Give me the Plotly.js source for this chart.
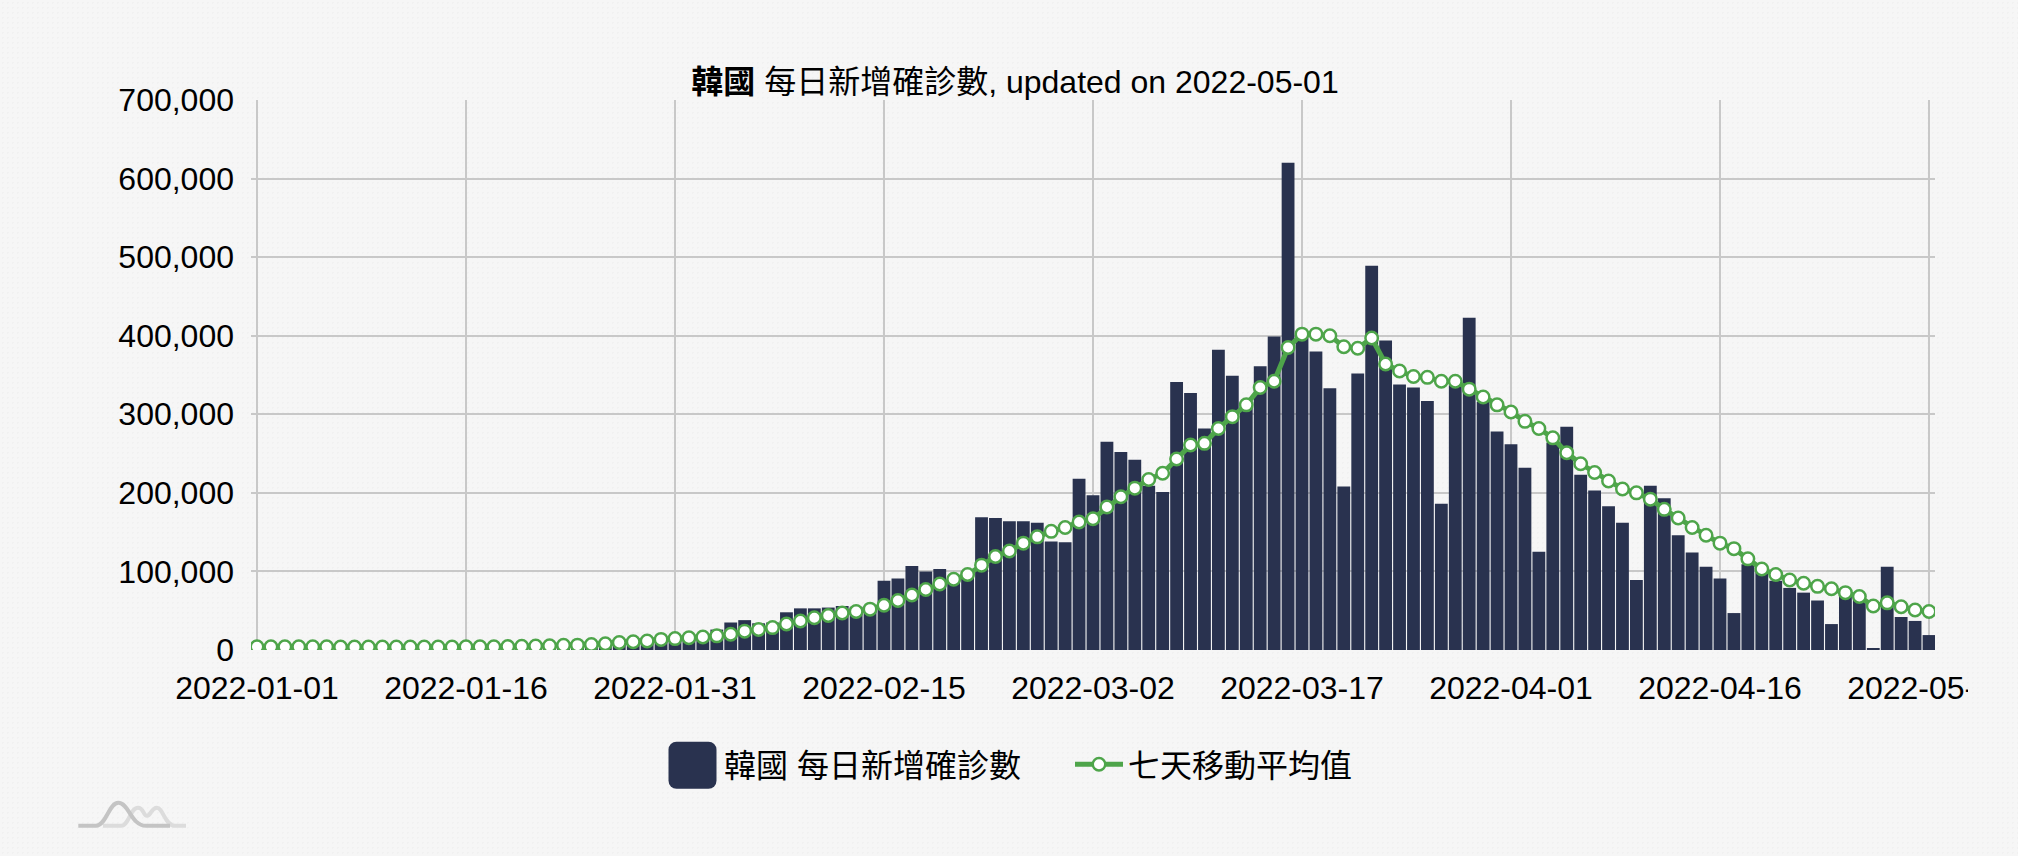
<!DOCTYPE html>
<html>
<head>
<meta charset="utf-8">
<script src="https://cdn.plot.ly/plotly-3.0.1.min.js"></script>
<style>
  html, body { margin: 0; padding: 0; width: 2018px; height: 856px; overflow: hidden; background-color: #f6f6f6; }
  body { background-image: radial-gradient(#f1f1f1 1px, transparent 1px); background-size: 5px 5px; }
  #chart { width: 1968px; height: 856px; }
</style>
</head>
<body>
<div id="chart"></div>
<script>
var dates = [
  '2022-01-01','2022-01-02','2022-01-03','2022-01-04','2022-01-05','2022-01-06','2022-01-07','2022-01-08','2022-01-09','2022-01-10',
  '2022-01-11','2022-01-12','2022-01-13','2022-01-14','2022-01-15','2022-01-16','2022-01-17','2022-01-18','2022-01-19','2022-01-20',
  '2022-01-21','2022-01-22','2022-01-23','2022-01-24','2022-01-25','2022-01-26','2022-01-27','2022-01-28','2022-01-29','2022-01-30',
  '2022-01-31','2022-02-01','2022-02-02','2022-02-03','2022-02-04','2022-02-05','2022-02-06','2022-02-07','2022-02-08','2022-02-09',
  '2022-02-10','2022-02-11','2022-02-12','2022-02-13','2022-02-14','2022-02-15','2022-02-16','2022-02-17','2022-02-18','2022-02-19',
  '2022-02-20','2022-02-21','2022-02-22','2022-02-23','2022-02-24','2022-02-25','2022-02-26','2022-02-27','2022-02-28','2022-03-01',
  '2022-03-02','2022-03-03','2022-03-04','2022-03-05','2022-03-06','2022-03-07','2022-03-08','2022-03-09','2022-03-10','2022-03-11',
  '2022-03-12','2022-03-13','2022-03-14','2022-03-15','2022-03-16','2022-03-17','2022-03-18','2022-03-19','2022-03-20','2022-03-21',
  '2022-03-22','2022-03-23','2022-03-24','2022-03-25','2022-03-26','2022-03-27','2022-03-28','2022-03-29','2022-03-30','2022-03-31',
  '2022-04-01','2022-04-02','2022-04-03','2022-04-04','2022-04-05','2022-04-06','2022-04-07','2022-04-08','2022-04-09','2022-04-10',
  '2022-04-11','2022-04-12','2022-04-13','2022-04-14','2022-04-15','2022-04-16','2022-04-17','2022-04-18','2022-04-19','2022-04-20',
  '2022-04-21','2022-04-22','2022-04-23','2022-04-24','2022-04-25','2022-04-26','2022-04-27','2022-04-28','2022-04-29','2022-04-30',
  '2022-05-01'
];

// daily new cases
var dailyCases = [
  4400,3800,3100,3700,4400,4100,3700,3500,3400,3000,
  3000,3900,4200,4200,4500,4300,3900,3900,5800,5800,
  6600,6800,7000,7600,8500,12000,13500,14500,16000,16000,
  16500,18000,19500,26000,35000,38000,34000,35000,48000,53000,
  53000,54000,56000,55000,56000,88000,91000,107000,100000,103000,
  90000,93000,169000,168000,164000,164000,162000,138000,137000,218000,
  197000,265000,252000,242000,209000,201000,341000,327000,282000,382000,
  349000,314000,361000,399000,620000,398000,380000,333000,208000,352000,
  489000,394000,338000,334000,317000,186000,337000,423000,316000,278000,
  262000,232000,125000,264000,284000,223000,203000,183000,162000,89000,
  209000,193000,146000,124000,106000,91000,47000,109000,99000,88000,
  79000,73000,63000,33000,69000,66000,1500,106000,42000,37000,
  19000
];

// seven day moving average
var movingAvg = [
  4200,4100,4000,4000,4000,4000,3900,3900,3800,3700,
  3700,3700,3700,3800,3900,4000,4000,4100,4400,4700,
  5000,5500,6000,6200,7000,8000,9500,10500,11500,13500,
  14500,15500,16500,18000,20000,24000,26000,28500,33000,37000,
  41000,44000,47000,49000,52000,57000,63000,70000,77000,84000,
  90000,96000,108000,119000,126000,136000,144000,151000,156000,163000,
  167000,182000,195000,206000,217000,225000,243000,261000,263000,282000,
  297000,312000,334000,342000,385000,402000,402000,400000,386000,384000,
  397000,364000,355000,348000,347000,342000,342000,332000,322000,312000,
  303000,291000,282000,270000,251000,237000,226000,215000,205000,200000,
  192000,179000,168000,156000,146000,136000,129000,116000,103000,96000,
  89000,85000,81000,78000,73000,68000,56000,60000,55000,51000,
  49000
];

var tickDates = ['2022-01-01','2022-01-16','2022-01-31','2022-02-15','2022-03-02','2022-03-17','2022-04-01','2022-04-16','2022-05-01'];
var yTicks = [0,100000,200000,300000,400000,500000,600000,700000];

var barColor = '#29324f';
var lineColor = '#4ea54a';
var gridColor = '#c8c8c8';
var fontFamily = '"Liberation Sans", "Noto Sans CJK TC", sans-serif';

var traces = [
  { type: 'bar', name: '韓國 每日新增確診數', x: dates, y: dailyCases, marker: { color: barColor }, hoverinfo: 'x+y' },
  {
    type: 'scatter', mode: 'lines+markers', name: '七天移動平均值', x: dates, y: movingAvg,
    line: { color: lineColor, width: 5 },
    marker: { color: '#ffffff', size: 12.5, line: { color: lineColor, width: 2.5 } }
  }
];

var layout = {
  width: 1968,
  height: 856,
  paper_bgcolor: 'rgba(0,0,0,0)',
  plot_bgcolor: 'rgba(0,0,0,0)',
  margin: { l: 251, r: 33, t: 100.3, b: 205.5, pad: 0, autoexpand: false },
  font: { family: fontFamily, size: 32, color: '#000000' },
  bargap: 0.08,
  title: {
    text: '<b>韓國</b> 每日新增確診數, updated on 2022-05-01',
    font: { family: fontFamily, size: 32, color: '#000000' },
    xref: 'container', yref: 'container',
    x: 1015 / 1968, xanchor: 'center',
    y: 1 - 82 / 856, yanchor: 'middle'
  },
  xaxis: {
    type: 'category',
    categoryorder: 'array',
    categoryarray: dates,
    range: [-0.43, 120.43],
    tickmode: 'array',
    tickvals: tickDates,
    ticktext: tickDates,
    tickangle: 0,
    ticks: '',
    showgrid: true,
    gridcolor: gridColor,
    gridwidth: 1.5,
    showline: false,
    zeroline: false,
    ticklabelstandoff: 16,
    tickfont: { family: fontFamily, size: 32, color: '#000000' }
  },
  yaxis: {
    range: [0, 700000],
    tickmode: 'array',
    tickvals: yTicks,
    tickformat: ',d',
    ticks: '',
    showgrid: true,
    gridcolor: gridColor,
    gridwidth: 1.5,
    showline: false,
    zeroline: false,
    ticklabelstandoff: 16,
    tickfont: { family: fontFamily, size: 32, color: '#000000' }
  },
  legend: {
    orientation: 'h',
    xref: 'paper', yref: 'paper',
    x: (666 - 251) / 1684, xanchor: 'left',
    y: (650.5 - 765) / 550.2, yanchor: 'middle',
    itemwidth: 48,
    entrywidth: 341,
    entrywidthmode: 'pixels',
    bgcolor: 'rgba(0,0,0,0)',
    font: { family: fontFamily, size: 32, color: '#000000' }
  },
  // small site logo in the bottom left corner, offsets from the plot corner
  shapes: [
    {
      type: 'path', layer: 'below', xref: 'paper', yref: 'paper', xsizemode: 'pixel', ysizemode: 'pixel', xanchor: 0, yanchor: 0,
      path: 'M-148,-175.8 L-130,-175.8 C-122,-175.8 -121,-157.8 -113,-157.8 C-107,-157.8 -108,-165.8 -104,-165.8 C-100,-165.8 -100,-157.8 -94,-157.8 C-88,-157.8 -86,-175.8 -76,-175.8 L-65,-175.8',
      line: { color: '#dcdcdc', width: 4 }
    },
    {
      type: 'path', layer: 'below', xref: 'paper', yref: 'paper', xsizemode: 'pixel', ysizemode: 'pixel', xanchor: 0, yanchor: 0,
      path: 'M-172.7,-175.8 L-155,-175.8 C-145,-175.8 -142,-152.8 -132.7,-152.8 C-122,-152.8 -120,-175.8 -105,-175.8 L-81,-175.8',
      line: { color: '#c4c4c4', width: 4 }
    }
  ]
};

// plotly's bar swatch is tiny, the original has a big rounded block
function fixSwatch(gd) {
  var swatch = gd.querySelector('.legend .legendpoints path');
  if (swatch) {
    swatch.setAttribute('d', 'M-18.5,-22.5H13.5A8,8 0 0 1 21.5,-14.5V16.5A8,8 0 0 1 13.5,24.5H-18.5A8,8 0 0 1 -26.5,16.5V-14.5A8,8 0 0 1 -18.5,-22.5Z');
    swatch.style.strokeWidth = '0';
  }
  var box = gd.querySelector('.legend .scrollbox');
  if (box) box.removeAttribute('clip-path');
  var legendSvg = gd.querySelector('.legend');
  if (legendSvg) legendSvg.style.overflow = 'visible';
}

Plotly.newPlot('chart', traces, layout, { displayModeBar: false, responsive: false }).then(function (gd) {
  gd.on('plotly_afterplot', function () { fixSwatch(gd); });
  fixSwatch(gd);
  setTimeout(function () { fixSwatch(gd); }, 50);
});
</script>
</body>
</html>
